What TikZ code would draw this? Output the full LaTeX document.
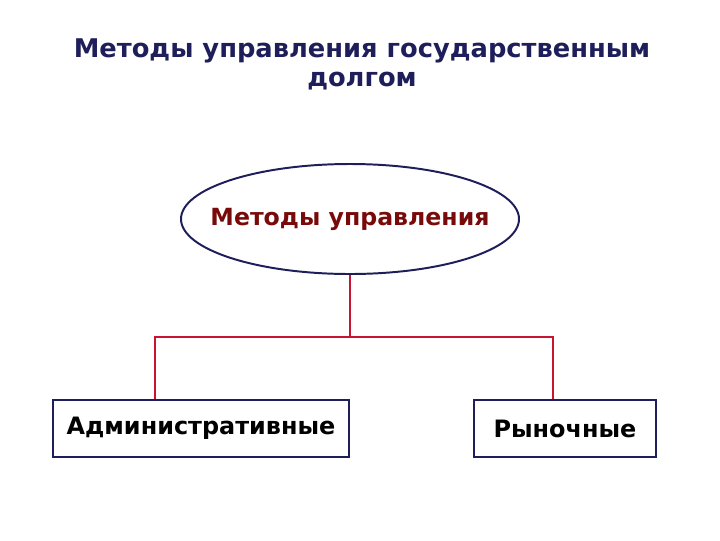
\documentclass[tikz,border=0pt]{standalone}
\usepackage{fontspec}
\setmainfont{DejaVu Sans}
\usepackage{tikz}
\usetikzlibrary{shapes.geometric}

\definecolor{navy}{RGB}{30,30,90}
\definecolor{darkred}{RGB}{120,10,10}
\definecolor{linered}{RGB}{200,20,50}

\tikzset{
  methodbox/.style={draw=navy, line width=1.3pt, minimum width=296*0.025cm, minimum height=57*0.025cm, font=\bfseries\fontsize{17}{20}\selectfont},
  branch/.style={draw=linered, line width=1.2pt}
}

\begin{document}
\begin{tikzpicture}[x=0.025cm, y=-0.025cm]
      \useasboundingbox (0,0) rectangle (720,540);
      % Title:
      \node[text=navy, align=center, font=\bfseries\fontsize{18.3}{20.5}\selectfont] (title) at (362,64) {Методы управления государственным\\долгом};
      % Top ellipse:
      \node[ellipse, draw=navy, line width=1.4pt, minimum width=338*0.025cm, minimum height=110*0.025cm] (methods) at (350,219) {};
      \node[text=darkred, font=\bfseries\fontsize{16.8}{19}\selectfont] (methodstext) at (methods) {Методы управления};
      % Bottom boxes:
      \node[methodbox] (admin) at (201,428.5) {Административные};
      \node[methodbox, minimum width=182*0.025cm] (market) at (565,428.5) {Рыночные};
      % Connectors:
      \coordinate (fork) at (methods.south |- 0,337);
      \coordinate (left) at (155,337);
      \coordinate (right) at (553,337);
      \draw[branch] (methods.south) -- (fork);
      \draw[branch] (left |- admin.north) -- (left) -- (right) -- (right |- market.north);
\end{tikzpicture}
\end{document}
